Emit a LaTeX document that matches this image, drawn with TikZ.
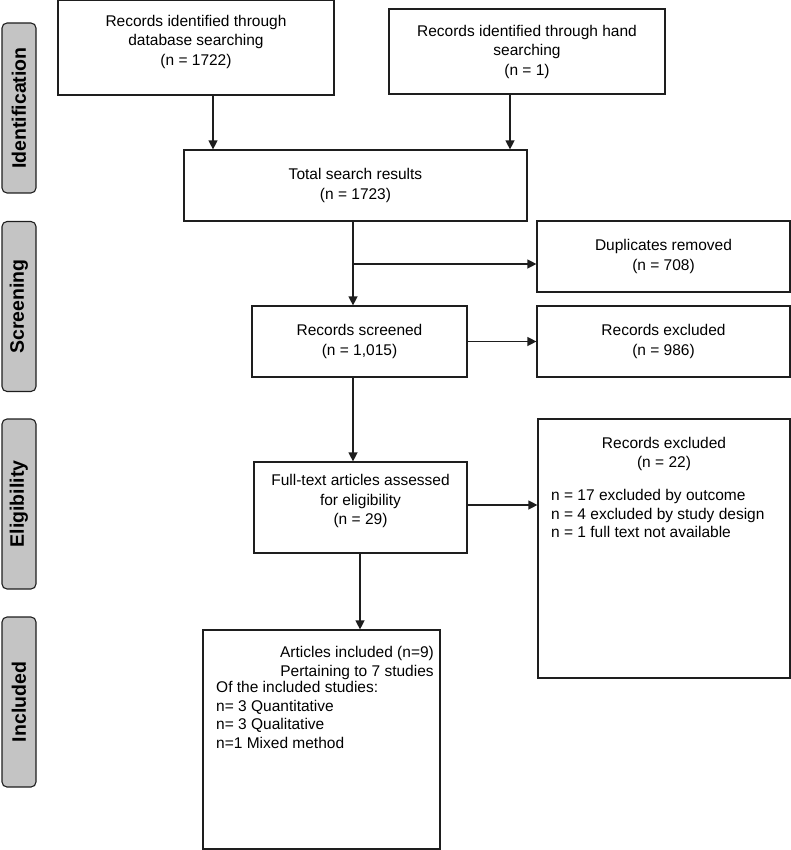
\documentclass[tikz,border=0pt]{standalone}
\usepackage{fontspec}
\setmainfont{Liberation Sans}
\usetikzlibrary{arrows.meta}
\definecolor{lblfill}{HTML}{C4C4C4}
\definecolor{edge}{HTML}{1E1E1E}
\begin{document}
\begin{tikzpicture}[x=1pt,y=-1pt,
  box/.style={draw=edge, line width=1.2pt, rectangle, inner sep=0pt, align=center,
    font=\fontsize{15.5}{19.5}\selectfont},
  txt/.style={inner sep=0pt, font=\fontsize{15.5}{18.7}\selectfont},
  side/.style={draw=edge, fill=lblfill, line width=1.1pt, rounded corners=5pt, rotate=90,
    minimum width=170pt, minimum height=34pt, inner sep=0pt,
    font=\fontsize{19.5}{22}\selectfont\bfseries},
  arr/.style={draw=edge, line width=1.3pt, -{Triangle[length=9pt,width=9pt]}}]
\useasboundingbox (0,0) rectangle (791,850);
% side labels
\node[side] (sid) at (19,108) {Identification};
\node[side] (sscr) at (19,306.5) {Screening};
\node[side] (selig) at (19,504) {Eligibility};
\node[side] (sinc) at (19,702) {Included};
% boxes
\node[box, minimum width=276pt, minimum height=94.5pt] (db) at (196,47.75)
  {Records identified through\\database searching\\(n = 1722)\\[-4pt]\mbox{}};
\node[box, minimum width=276pt, minimum height=85pt] (hand) at (527,51.5)
  {Records identified through hand\\searching\\(n = 1)};
\node[box, minimum width=343pt, minimum height=71pt] (tot) at (355.5,185.5)
  {Total search results\\(n = 1723)};
\node[box, minimum width=253pt, minimum height=71pt] (dup) at (663.5,256.5)
  {Duplicates removed\\(n = 708)};
\node[box, minimum width=215pt, minimum height=71pt] (scr) at (359.5,341.5)
  {Records screened\\(n = 1,015)};
\node[box, minimum width=253pt, minimum height=71pt] (ex1) at (663.5,341.5)
  {Records excluded\\(n = 986)};
\node[box, minimum width=213pt, minimum height=91pt] (ft) at (360.5,507.5)
  {Full-text articles assessed\\for eligibility\\(n = 29)\\[-4pt]\mbox{}};
\node[box, minimum width=252pt, minimum height=259pt] (ex2) at (664,548.5) {};
\node[txt, align=center, anchor=north] (ex2h) at (664,437) {Records excluded\\(n = 22)};
\node[txt, align=left, anchor=north west] (ex2l) at (551,489)
  {n = 17 excluded by outcome\\n = 4 excluded by study design\\n = 1 full text not available};
\node[box, minimum width=237pt, minimum height=219pt] (inc) at (321.5,739.5) {};
\node[txt, align=center, anchor=north] (inch) at (357,646) {Articles included (n=9)\\Pertaining to 7 studies};
\node[txt, align=left, anchor=north west] (incl) at (216,681)
  {Of the included studies:\\n= 3 Quantitative\\n= 3 Qualitative\\n=1 Mixed method};
% connector x positions
\coordinate (xa) at (213,0);
\coordinate (xb) at (510,0);
\coordinate (xc) at (353,0);
\coordinate (xd) at (360,0);
\coordinate (yb) at (0,264);
\coordinate (yf) at (0,505);
% connectors
\draw[arr] (db.south -| xa) -- (tot.north -| xa);
\draw[arr] (hand.south -| xb) -- (tot.north -| xb);
\draw[arr] (tot.south -| xc) -- (scr.north -| xc);
\draw[arr] (xc |- yb) -- (dup.west |- yb);
\draw[arr] (scr.east) -- (ex1.west);
\draw[arr] (scr.south -| xc) -- (ft.north -| xc);
\draw[arr] (ft.east |- yf) -- (ex2.west |- yf);
\draw[arr] (ft.south -| xd) -- (inc.north -| xd);
\end{tikzpicture}
\end{document}
